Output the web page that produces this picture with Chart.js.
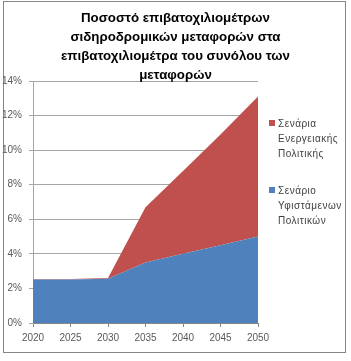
<!DOCTYPE html>
<html><head><meta charset="utf-8">
<script src="https://cdn.jsdelivr.net/npm/chart.js@4/dist/chart.umd.min.js"></script>
<style>
html,body{margin:0;padding:0;background:#fff;}
#wrap{position:relative;width:351px;height:361px;overflow:hidden;}
#frame{position:absolute;left:3px;top:1px;width:343px;height:352px;border:1px solid #868686;box-sizing:border-box;}
canvas{position:absolute;left:0;top:0;}
#title{position:absolute;left:0;width:351px;top:8px;text-align:center;font:bold 13.3px 'Liberation Sans';line-height:19px;color:#000;white-space:nowrap;}
.leg{position:absolute;font:10px 'Liberation Sans';color:#404040;line-height:15px;letter-spacing:0.5px;white-space:nowrap;}
.box{position:absolute;width:6px;height:6px;}
</style>
</head><body>
<div id="wrap">
<div id="frame"></div>
<canvas id="c" width="351" height="361"></canvas>
<div id="title"></div>
<div id="legend"></div>
</div>
<script>
const titleLines = ["Ποσοστό επιβατοχιλιομέτρων", "σιδηροδρομικών μεταφορών στα", "επιβατοχιλιομέτρα του συνόλου των", "μεταφορών"];
const years = ["2020", "2025", "2030", "2035", "2040", "2045", "2050"];
const currentPolicies = [2.52, 2.52, 2.56, 3.5, 4.0, 4.5, 5.0];
const energyPolicyExtra = [0.03, 0.03, 0.05, 3.2, 4.8, 6.4, 8.1];
const currentLabel = ["Σενάριο", "Υφιστάμενων", "Πολιτικών"];
const energyLabel = ["Σενάρια", "Ενεργειακής", "Πολιτικής"];
const yTicks = [0, 2, 4, 6, 8, 10, 12, 14];

const RED = '#C0504D', BLUE = '#4F81BD';

document.getElementById('title').innerHTML = titleLines.join('<br>');
const leg = document.getElementById('legend');
function addLegend(lines, color, top) {
  const b = document.createElement('div'); b.className = 'box';
  b.style.left = '269px'; b.style.top = (top + 4) + 'px'; b.style.background = color;
  const t = document.createElement('div'); t.className = 'leg';
  t.style.left = '278px'; t.style.top = top + 'px';
  t.innerHTML = lines.join('<br>');
  leg.appendChild(b); leg.appendChild(t);
}
addLegend(energyLabel, RED, 116);
addLegend(currentLabel, BLUE, 183);

new Chart(document.getElementById('c'), {
  type: 'line',
  data: {
    labels: years,
    datasets: [
      { label: currentLabel.join(' '), data: currentPolicies, backgroundColor: BLUE, borderColor: BLUE, borderWidth: 0, fill: 'origin', pointRadius: 0, tension: 0 },
      { label: energyLabel.join(' '), data: energyPolicyExtra, backgroundColor: RED, borderColor: RED, borderWidth: 0, fill: '-1', pointRadius: 0, tension: 0 }
    ]
  },
  options: {
    responsive: false,
    animation: false,
    layout: { padding: { left: 0, right: 93, top: 81, bottom: 0 } },
    plugins: { legend: { display: false }, title: { display: false }, tooltip: { enabled: false } },
    scales: {
      x: {
        offset: false,
        grid: { display: true, drawOnChartArea: false, color: '#868686', tickLength: 4 },
        border: { color: '#868686' },
        ticks: { color: '#595959', font: { family: 'Liberation Sans', size: 10 }, padding: 5, maxRotation: 0 },
        afterFit: s => { s.height = 38; }
      },
      y: {
        stacked: true, min: 0, max: 14,
        afterBuildTicks: s => { s.ticks = yTicks.map(v => ({ value: v })); },
        grid: { color: '#A6A6A6', tickLength: 4 },
        border: { color: '#A6A6A6' },
        ticks: { color: '#595959', font: { family: 'Liberation Sans', size: 10 }, padding: 7, callback: v => v + '%' },
        afterFit: s => { s.width = 33; }
      }
    }
  }
});
</script>
</body></html>
